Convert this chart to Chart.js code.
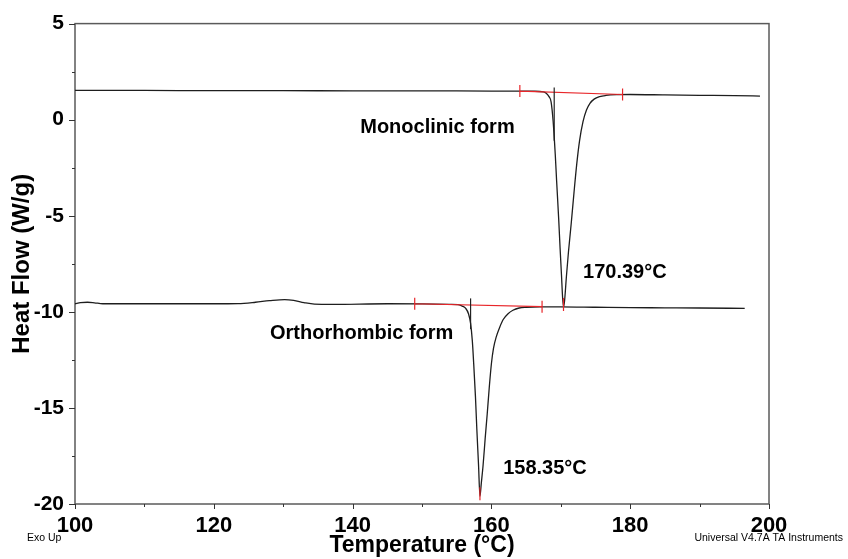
<!DOCTYPE html>
<html>
<head>
<meta charset="utf-8">
<script src="https://cdn.jsdelivr.net/npm/chart.js@4.4.1/dist/chart.umd.min.js"></script>
<style>
  body { margin: 0; background: #fff; }
  #wrap { width: 848px; height: 559px; }
</style>
</head>
<body>
<div id="wrap"><canvas id="dsc"></canvas></div>
<script>
// DSC heat flow curves, temperature in °C, heat flow in W/g
const monoTemp = [100, 110, 120, 130, 140, 150, 160, 164, 166, 167.5, 167.9, 168.3, 168.6, 168.9, 169.2, 169.4,
  169.7, 169.9, 170.1, 170.26, 170.39, 170.55, 170.8, 171.1, 171.5, 171.9, 172.3, 172.7, 173.2, 173.7, 174.2,
  174.8, 175.6, 176.5, 178, 180, 185, 190, 195, 198.7];
const monoFlow = [1.52, 1.52, 1.51, 1.51, 1.50, 1.50, 1.49, 1.49, 1.48, 1.45, 1.38, 1.2, 0.93, -0.1, -1.8, -3.2,
  -5.2, -6.7, -8.1, -9.25, -9.75, -9.4, -8.2, -6.9, -5.4, -3.8, -2.3, -1.1, -0.1, 0.5, 0.85,
  1.07, 1.2, 1.26, 1.3, 1.31, 1.29, 1.27, 1.25, 1.23];

const orthoTemp = [100, 100.8, 101.8, 102.8, 104, 110, 120, 123.5, 126, 128, 130.2, 131.5, 133, 134.5, 137, 145,
  150, 154, 155.2, 155.8, 156.3, 156.7, 157.0, 157.25, 157.45, 157.7, 157.9, 158.15, 158.35, 158.55, 158.8,
  159.1, 159.4, 159.7, 160.0, 160.3, 160.7, 161.2, 161.7, 162.4, 163.1, 164, 165, 167, 170, 175, 180, 185,
  190, 196.5];
const orthoFlow = [-9.58, -9.52, -9.50, -9.53, -9.58, -9.58, -9.58, -9.57, -9.50, -9.42, -9.36, -9.40, -9.52,
  -9.60, -9.61, -9.58, -9.59, -9.61, -9.63, -9.70, -9.82, -10.1, -10.6, -11.5, -12.7, -14.4, -16.1, -18.0,
  -19.6, -18.9, -18.0, -16.6, -15.3, -13.9, -12.7, -11.9, -11.3, -10.8, -10.4, -10.1, -9.92, -9.8, -9.76,
  -9.74, -9.74, -9.76, -9.78, -9.79, -9.8, -9.82];

// peak integration limits [T, W/g], onset [T, top, bottom] and peak [T, W/g]
const monoLimits = [[164.1, 1.49], [178.9, 1.31]];
const monoOnset = [169.05, 1.68, -1.1];
const monoPeak = [170.39, -9.75];
const orthoLimits = [[148.95, -9.58], [167.3, -9.73]];
const orthoOnset = [157.0, -9.3, -10.9];
const orthoPeak = [158.35, -19.6];

// text labels [text, T, W/g]
const notes = [
  ['Monoclinic form', 141.1, -0.4],
  ['170.39°C', 173.2, -7.93],
  ['Orthorhombic form', 128.1, -11.15],
  ['158.35°C', 161.7, -18.17]
];

const SANS = "'Liberation Sans', Arial, sans-serif";

function toPoints(xs, ys) {
  return xs.map((x, i) => ({ x: x, y: ys[i] }));
}

const decor = {
  id: 'decor',
  beforeDatasetsDraw(chart) {
    const ctx = chart.ctx;
    const a = chart.chartArea;
    const xs = chart.scales.x, ys = chart.scales.y;
    ctx.save();
    ctx.strokeStyle = '#5a5a5a';
    ctx.lineWidth = 1.5;
    ctx.strokeRect(a.left, a.top, a.right - a.left, a.bottom - a.top);
    ctx.lineWidth = 1;
    ctx.strokeStyle = '#333';
    ctx.beginPath();
    xs.ticks.forEach(t => {
      const px = Math.round(xs.getPixelForValue(t.value)) + 0.5;
      const len = t.value % 20 === 0 ? 5 : 3;
      ctx.moveTo(px, a.bottom);
      ctx.lineTo(px, a.bottom + len);
    });
    ys.ticks.forEach(t => {
      const py = Math.round(ys.getPixelForValue(t.value)) + 0.5;
      const len = t.value % 5 === 0 ? 6 : 3;
      ctx.moveTo(a.left, py);
      ctx.lineTo(a.left - len, py);
    });
    ctx.stroke();
    ctx.restore();
  },
  afterDatasetsDraw(chart) {
    const ctx = chart.ctx;
    const xs = chart.scales.x, ys = chart.scales.y;
    const X = v => xs.getPixelForValue(v), Y = v => ys.getPixelForValue(v);
    ctx.save();
    [[monoLimits, monoOnset, monoPeak], [orthoLimits, orthoOnset, orthoPeak]].forEach(([lim, on, pk]) => {
      ctx.strokeStyle = '#e8262a';
      ctx.lineWidth = 1.2;
      ctx.beginPath();
      ctx.moveTo(X(lim[0][0]), Y(lim[0][1]));
      ctx.lineTo(X(lim[1][0]), Y(lim[1][1]));
      lim.forEach(p => {
        ctx.moveTo(X(p[0]), Y(p[1]) - 6);
        ctx.lineTo(X(p[0]), Y(p[1]) + 6);
      });
      ctx.moveTo(X(pk[0]), Y(pk[1]) - 9);
      ctx.lineTo(X(pk[0]), Y(pk[1]) + 4);
      ctx.stroke();
      ctx.strokeStyle = '#222';
      ctx.lineWidth = 1.2;
      ctx.beginPath();
      ctx.moveTo(X(on[0]), Y(on[1]));
      ctx.lineTo(X(on[0]), Y(on[2]));
      ctx.stroke();
    });
    ctx.fillStyle = '#000';
    ctx.font = 'bold 20px ' + SANS;
    ctx.textBaseline = 'middle';
    ctx.textAlign = 'left';
    notes.forEach(n => ctx.fillText(n[0], X(n[1]), Y(n[2])));
    ctx.font = '10.5px ' + SANS;
    ctx.fillText('Exo Up', 27, 538);
    ctx.textAlign = 'right';
    ctx.fillText('Universal V4.7A TA Instruments', 843, 538);
    ctx.restore();
  }
};

const curveStyle = {
  borderColor: '#1e1e1e',
  borderWidth: 1.3,
  pointRadius: 0,
  fill: false,
  cubicInterpolationMode: 'monotone'
};

new Chart(document.getElementById('dsc').getContext('2d'), {
  type: 'line',
  data: {
    datasets: [
      Object.assign({ label: 'Monoclinic form', data: toPoints(monoTemp, monoFlow) }, curveStyle),
      Object.assign({ label: 'Orthorhombic form', data: toPoints(orthoTemp, orthoFlow) }, curveStyle)
    ]
  },
  options: {
    animation: false,
    responsive: true,
    maintainAspectRatio: false,
    layout: { padding: { left: 0, top: 23, right: 79, bottom: 0 } },
    plugins: { legend: { display: false }, tooltip: { enabled: false } },
    scales: {
      x: {
        type: 'linear',
        min: 100,
        max: 200,
        afterFit(s) { s.height = 55; },
        grid: { display: false, drawTicks: false },
        border: { display: false },
        ticks: {
          stepSize: 10,
          autoSkip: false,
          maxRotation: 0,
          padding: 9,
          color: '#000',
          font: { family: SANS, size: 22, weight: 'bold' },
          callback: v => (v % 20 === 0 ? String(v) : '')
        },
        title: {
          display: true,
          text: 'Temperature (°C)',
          color: '#000',
          font: { family: SANS, size: 23, weight: 'bold', lineHeight: 1 },
          padding: { top: 0, bottom: 2 }
        }
      },
      y: {
        min: -20,
        max: 5,
        afterFit(s) { s.width = 75; },
        grid: { display: false, drawTicks: false },
        border: { display: false },
        ticks: {
          stepSize: 2.5,
          autoSkip: false,
          padding: 11,
          color: '#000',
          font: { family: SANS, size: 21, weight: 'bold' },
          callback: v => (v % 5 === 0 ? String(v) : '')
        },
        title: {
          display: true,
          text: 'Heat Flow (W/g)',
          color: '#000',
          font: { family: SANS, size: 24, weight: 'bold', lineHeight: 1 },
          padding: { top: 10, bottom: 0 }
        }
      }
    }
  },
  plugins: [decor]
});
</script>
</body>
</html>
